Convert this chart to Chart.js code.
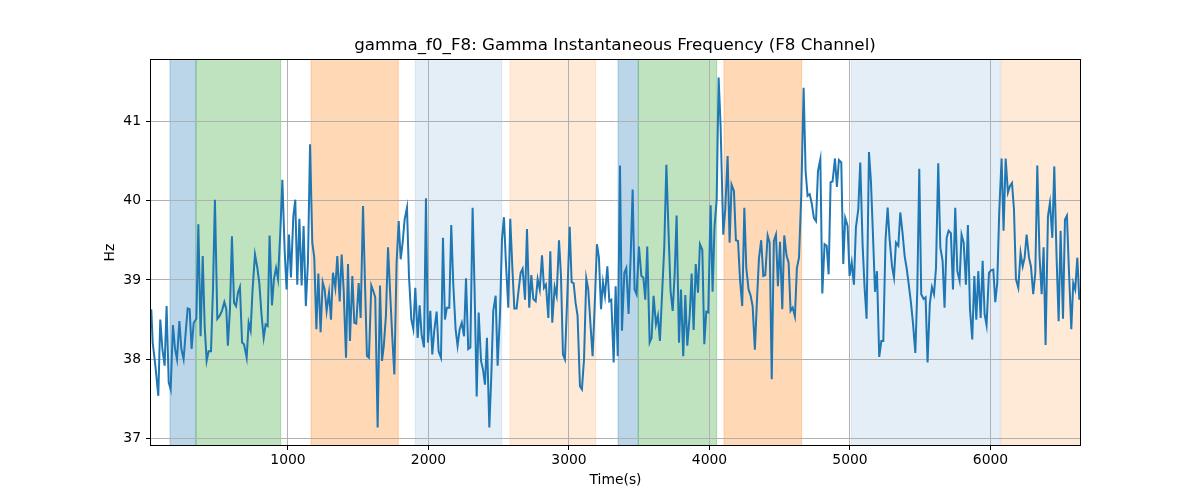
<!DOCTYPE html>
<html><head><meta charset="utf-8">
<script src="https://cdn.jsdelivr.net/npm/chart.js@4/dist/chart.umd.min.js"></script>
<style>html,body{margin:0;padding:0;background:#fff}#wrap{width:1200px;height:500px}</style>
</head><body><div id="wrap"><canvas id="c" width="1200" height="500"></canvas></div>
<script>
const times = [27,37,56,77,91,106,122,136,151,165,181,196,210,227,241,257,272,286,300,314,329,348,362,378,393,407,421,435,452,466,480,497,514,530,547,561,572,
587,601,616,630,644,658,673,687,706,720,734,748,765,782,796,812,827,841,855,869,886,900,915,929,945,960,976,990,1007,1021,1038,1052,1066,1081,1097,1111,1127,
1142,1157,1173,1187,1202,1216,1232,1247,1261,1275,1292,1306,1320,1337,1351,1368,1382,1396,1413,1427,1441,1458,1472,1486,1503,1517,1534,1548,1562,1576,1593,1607,1621,1638,1655,1669,1682,
1697,1712,1728,1742,1757,1773,1788,1802,1816,1830,1847,1861,1878,1892,1906,1923,1937,1951,1968,1982,1996,2013,2027,2041,2058,2072,2089,2103,2117,2131,2148,2162,2176,2193,2207,2222,2237,
2253,2267,2283,2298,2314,2328,2343,2357,2374,2388,2402,2416,2433,2447,2461,2478,2492,2509,2523,2537,2551,2568,2582,2597,2611,2627,2642,2656,2670,2687,2701,2717,2732,2746,2763,2777,2792,
2808,2822,2836,2853,2867,2881,2898,2912,2929,2943,2957,2971,2988,3005,3019,3033,3047,3061,3078,3092,3107,3123,3137,3152,3168,3182,3199,3213,3228,3242,3256,3273,3287,3301,3318,3332,3347,
3363,3377,3394,3408,3424,3439,3453,3467,3481,3498,3515,3529,3543,3557,3574,3588,3602,3619,3633,3647,3664,3678,3693,3707,3723,3738,3752,3766,3783,3797,3813,3828,3842,3859,3873,3887,3902,
3918,3932,3949,3963,3977,3991,4008,4022,4036,4051,4065,4079,4098,4112,4129,4143,4157,4174,4188,4203,4217,4233,4248,4262,4278,4293,4307,4323,4338,4352,4368,4383,4397,4414,4428,4443,4458,
4473,4487,4502,4518,4532,4549,4563,4577,4592,4608,4622,4637,4653,4670,4684,4698,4713,4727,4743,4758,4772,4789,4803,4819,4834,4848,4862,4876,4893,4907,4921,4938,4952,4966,4983,4997,5012,
5028,5042,5059,5073,5090,5104,5118,5135,5149,5163,5178,5192,5208,5223,5237,5253,5268,5282,5299,5313,5327,5344,5358,5374,5389,5403,5417,5434,5448,5465,5479,5493,5507,5524,5538,5552,5568,
5583,5598,5612,5628,5643,5659,5673,5688,5702,5718,5733,5749,5764,5780,5794,5809,5825,5839,5854,5870,5885,5899,5913,5930,5944,5958,5972,5989,6003,6020,6034,6048,6062,6079,6093,6108,
6124,6138,6153,6167,6181,6198,6214,6229,6243,6257,6274,6288,6304,6319,6333,6349,6364,6378,6392,6409,6423,6440,6454,6470,6485,6499,6516,6530,6544,6558,6575,6589,6603,6618,6632];
const hz = [38.63,38.21,37.92,37.54,38.50,38.13,37.92,38.67,37.71,37.62,38.43,38.13,38.00,38.48,38.13,38.00,38.34,38.64,38.63,38.13,38.46,38.51,39.70,38.29,39.30,38.42,37.98,38.10,38.10,38.88,40.01,38.51,38.55,38.61,38.72,38.63,38.17,
38.63,39.55,38.71,38.67,38.84,38.91,38.21,38.19,38.02,38.46,38.36,38.88,39.32,39.15,38.96,38.55,38.27,38.44,38.42,39.56,38.68,39.01,39.15,39.01,39.59,40.26,39.38,38.88,39.57,39.03,39.80,40.01,38.94,39.77,38.93,39.68,38.67,
39.22,40.71,39.47,39.28,38.38,39.08,38.34,38.97,38.88,38.61,38.84,38.50,39.09,38.90,39.30,38.73,39.32,38.88,38.02,39.20,38.23,39.05,38.46,38.45,38.96,38.52,39.93,38.96,38.04,38.02,38.93,38.86,38.78,37.14,38.93,37.98,38.17,
38.55,39.41,38.80,38.29,37.81,39.22,39.74,39.26,39.47,39.76,39.91,39.05,38.50,38.38,38.90,38.27,38.68,38.31,38.15,40.03,38.21,38.61,38.06,38.36,38.60,38.10,38.02,39.53,38.50,38.65,38.65,39.69,38.96,38.38,38.17,38.38,38.46,
38.29,39.02,38.13,38.15,39.91,38.88,37.53,38.59,37.98,37.87,37.68,38.27,37.14,37.79,38.61,38.80,37.92,38.57,39.51,39.79,39.22,38.65,39.77,39.15,38.64,38.64,38.88,39.09,39.14,38.75,39.64,38.65,39.06,38.76,38.73,39.01,38.88,
39.31,38.90,38.94,38.52,39.36,38.46,38.91,38.80,39.50,39.05,38.06,38.00,38.80,39.67,38.97,38.96,38.71,38.55,37.66,37.62,38.00,39.02,38.88,38.46,38.04,38.63,39.45,39.28,38.63,38.97,38.80,39.17,38.73,38.75,37.96,38.92,38.04,
40.44,38.36,39.09,39.15,38.57,39.30,40.14,38.88,38.82,39.42,39.05,39.03,38.75,39.42,38.21,38.27,38.80,38.44,38.55,38.23,38.88,39.41,40.45,39.68,38.86,38.61,39.07,39.81,38.21,38.88,38.04,38.81,38.17,38.55,39.08,38.37,39.20,
38.84,39.45,39.38,38.19,38.60,38.59,39.94,38.85,39.68,40.01,41.55,40.94,39.57,39.89,40.56,39.47,40.20,40.12,39.50,39.49,39.01,38.67,39.91,39.15,38.88,38.80,38.67,38.12,38.75,39.27,39.50,39.05,39.06,39.56,39.47,37.75,39.49,
39.57,38.92,39.48,38.63,39.56,39.30,39.22,38.61,38.65,38.54,39.15,39.28,40.06,41.42,40.37,40.06,40.08,39.97,39.78,39.74,40.37,40.52,38.83,39.45,39.43,39.07,40.23,40.24,40.53,40.17,40.51,40.48,39.20,39.78,39.68,39.05,39.22,
38.94,39.66,39.89,40.48,39.43,38.90,38.51,40.61,40.24,39.59,38.85,39.11,38.03,38.23,38.23,39.51,39.91,39.51,39.17,39.03,39.47,39.43,39.85,39.59,39.30,39.15,38.96,38.71,38.46,38.08,38.88,40.40,38.82,38.76,38.78,37.96,38.70,
38.91,38.82,39.15,40.47,39.41,39.24,38.65,39.53,39.62,39.59,38.88,39.91,39.11,38.99,39.57,39.47,38.94,39.69,38.63,38.25,39.05,38.50,39.11,38.52,39.24,38.57,38.43,39.09,39.12,39.13,38.72,38.96,39.85,40.53,39.62,40.53,
40.10,40.18,40.22,39.89,39.01,38.90,39.34,39.17,39.28,39.57,39.28,39.17,38.82,39.09,40.44,39.30,38.82,39.41,38.18,39.80,39.97,39.53,40.43,39.30,38.48,39.62,38.51,39.76,39.81,39.13,38.38,38.96,38.88,39.28,38.75];
const bandStart = [160, 345, 1164, 1906, 2580, 3349, 3493, 4103, 5010, 6077];
const bandEnd   = [345, 948, 1785, 2521, 3190, 3493, 4051, 4656, 6070, 6640];
const bandKind  = ['blueA','green','orangeA','blueB','orangeB','blueA','green','orangeA','blueB','orangeB'];
const xTicks = [1000, 2000, 3000, 4000, 5000, 6000];
const yTicks = [37, 38, 39, 40, 41];

const bandColors = {
  blueA: 'rgba(31,119,180,0.3)',
  green: 'rgba(44,160,44,0.3)',
  orangeA: 'rgba(255,127,14,0.3)',
  blueB: 'rgba(31,119,180,0.12)',
  orangeB: 'rgba(255,127,14,0.16)'
};
const FONT = 'DejaVu Sans';

const bandPlugin = {
  id: 'bands',
  beforeDraw(chart) {
    const {ctx, chartArea: a, scales: {x}} = chart;
    ctx.save();
    ctx.beginPath();
    ctx.rect(a.left, a.top, a.right - a.left, a.bottom - a.top);
    ctx.clip();
    for (let i = 0; i < bandStart.length; i++) {
      const x0 = x.getPixelForValue(bandStart[i]);
      const x1 = x.getPixelForValue(bandEnd[i]);
      ctx.fillStyle = bandColors[bandKind[i]];
      ctx.fillRect(x0, a.top, x1 - x0, a.bottom - a.top);
      ctx.strokeStyle = bandColors[bandKind[i]];
      ctx.lineWidth = 1;
      ctx.strokeRect(x0, a.top - 2, x1 - x0, a.bottom - a.top + 4);
    }
    ctx.restore();
  },
  afterDraw(chart) {
    const {ctx, chartArea: a} = chart;
    ctx.save();
    ctx.strokeStyle = '#000';
    ctx.lineWidth = 1;
    ctx.strokeRect(Math.round(a.left) - 0.5, Math.round(a.top) - 0.5, Math.round(a.right - a.left) + 1, Math.round(a.bottom - a.top) + 1);
    ctx.restore();
  }
};

new Chart(document.getElementById('c'), {
  type: 'line',
  data: {
    datasets: [{
      data: times.map((t, i) => ({x: t, y: hz[i]})),
      borderColor: '#1f77b4',
      borderWidth: 2,
      pointRadius: 0,
      tension: 0,
      fill: false,
      yAxisID: 'y'
    }]
  },
  options: {
    responsive: false,
    animation: false,
    devicePixelRatio: 1,
    layout: {padding: {left: 30, right: 0, top: 0, bottom: 0}},
    plugins: {
      legend: {display: false},
      tooltip: {enabled: false},
      title: {
        display: true,
        text: 'gamma_f0_F8: Gamma Instantaneous Frequency (F8 Channel)',
        color: '#000',
        font: {family: FONT, size: 16.7, weight: 'normal'},
        padding: {top: 36, bottom: 4}
      }
    },
    scales: {
      x: {
        type: 'linear',
        min: 25, max: 6637,
        afterFit: s => { s.height = 55; },
        afterBuildTicks: s => { s.ticks = xTicks.map(v => ({value: v})); },
        ticks: {color: '#000', font: {family: FONT, size: 13.9}, padding: 2, autoSkip: false, maxRotation: 0, callback: v => String(v)},
        grid: {color: '#b0b0b0', lineWidth: 1, tickColor: '#000', tickLength: 5},
        border: {display: false},
        title: {display: true, text: 'Time(s)', color: '#000', font: {family: FONT, size: 13.9}, padding: {top: 0, bottom: 11}}
      },
      y: {
        type: 'linear',
        position: 'left',
        min: 36.92, max: 41.77,
        afterFit: s => { s.width = 121; },
        afterBuildTicks: s => { s.ticks = yTicks.map(v => ({value: v})); },
        ticks: {color: '#000', font: {family: FONT, size: 13.9}, padding: 5, callback: v => String(v)},
        grid: {color: '#b0b0b0', lineWidth: 1, tickColor: '#000', tickLength: 5},
        border: {display: false},
        title: {display: true, text: 'Hz', color: '#000', font: {family: FONT, size: 13.9}, padding: {top: 72, bottom: 0}}
      },
      yr: {
        type: 'linear',
        position: 'right',
        min: 36.92, max: 41.77,
        afterFit: s => { s.width = 120; },
        ticks: {display: false},
        grid: {display: false, drawTicks: false},
        border: {display: false}
      }
    }
  },
  plugins: [bandPlugin]
});
</script></body></html>
